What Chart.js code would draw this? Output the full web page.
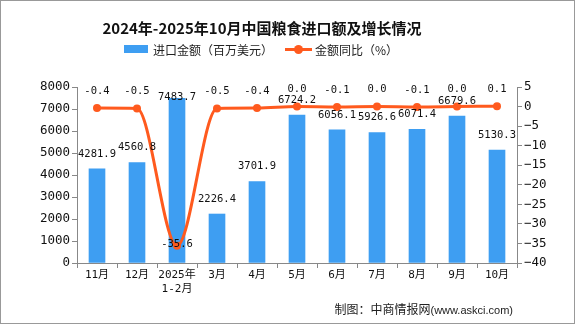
<!DOCTYPE html>
<html>
<head>
<meta charset="utf-8">
<script src="https://cdn.jsdelivr.net/npm/chart.js@4"></script>
<style>
  body { margin: 0; background: #fff; }
  #wrap { position: relative; width: 575px; height: 324px; box-sizing: border-box; border: 1px solid #999; background: #fff; overflow: hidden; }
  #chart { position: absolute; left: -1px; top: -1px; }
  #title { position: absolute; left: 0; top: 17px; width: 522px; text-align: center; font: bold 15px "Noto Sans CJK SC", sans-serif; color: #111; line-height: 20px; }
  .leg { position: absolute; top: 41px; font: 12px "Noto Sans CJK SC", sans-serif; color: #222; line-height: 16px; }
  .sw-bar { position: absolute; left: 123px; top: 44px; width: 24px; height: 8px; background: #3e9ef2; }
  .sw-line { position: absolute; left: 284px; top: 47px; width: 27px; height: 3px; background: #ff5a1e; }
  .sw-dot { position: absolute; left: 293px; top: 44px; width: 9px; height: 9px; border-radius: 50%; background: #ff5a1e; }
  #foot { position: absolute; right: 61px; top: 299px; font: 12px "Noto Sans CJK SC", sans-serif; color: #222; line-height: 18px; }
  #foot span { font: 11px "Liberation Sans", sans-serif; }
</style>
</head>
<body>
<div id="wrap">
  <canvas id="chart" width="575" height="324"></canvas>
  <div id="title">2024年-2025年10月中国粮食进口额及增长情况</div>
  <div class="sw-bar"></div>
  <div class="leg" style="left:152px">进口金额（百万美元）</div>
  <div class="sw-line"></div>
  <div class="sw-dot"></div>
  <div class="leg" style="left:314px">金额同比（%）</div>
  <div id="foot">制图：中商情报网<span>(www.askci.com)</span></div>
</div>
<script>
// ================= DATA =================
const labels = ["11月", "12月", ["2025年", "1-2月"], "3月", "4月", "5月", "6月", "7月", "8月", "9月", "10月"];
const importValues = [4281.9, 4560.8, 7483.7, 2226.4, 3701.9, 6724.2, 6056.1, 5926.6, 6071.4, 6679.6, 5130.3];
const yoyValues = [-0.4, -0.5, -35.6, -0.5, -0.4, 0.0, -0.1, 0.0, -0.1, 0.0, 0.1];

const BLUE = "#3e9ef2";
const ORANGE = "#ff5a1e";
const NUM_FONT = '"DejaVu Sans Mono", "Noto Sans CJK SC", monospace';

// ================= LABELS PLUGIN =================
const valueLabels = {
  id: "valueLabels",
  afterDatasetsDraw(chart) {
    const ctx = chart.ctx;
    const top = chart.chartArea.top;
    ctx.save();
    ctx.fillStyle = "#111";
    ctx.textAlign = "center";
    ctx.textBaseline = "middle";
    ctx.font = "10.5px " + NUM_FONT;

    chart.getDatasetMeta(1).data.forEach((bar, i) => {
      const y = Math.max(bar.y - 15, top + 10);
      ctx.fillText(importValues[i].toFixed(1), bar.x, y);
    });

    chart.getDatasetMeta(0).data.forEach((pt, i) => {
      const v = yoyValues[i];
      const y = v < -10 ? pt.y - 2 : pt.y - 17;
      ctx.fillText(v.toFixed(1), pt.x, y);
    });
    ctx.restore();
  }
};

// ================= CHART =================
new Chart(document.getElementById("chart"), {
  data: {
    labels: labels,
    datasets: [
      {
        type: "line",
        label: "金额同比（%）",
        data: yoyValues,
        yAxisID: "y1",
        borderColor: ORANGE,
        backgroundColor: ORANGE,
        borderWidth: 3,
        pointRadius: 4,
        pointBackgroundColor: ORANGE,
        pointBorderWidth: 0,
        cubicInterpolationMode: "monotone",
        order: 0
      },
      {
        type: "bar",
        label: "进口金额（百万美元）",
        data: importValues,
        yAxisID: "y",
        backgroundColor: BLUE,
        barThickness: 16,
        order: 1
      }
    ]
  },
  options: {
    responsive: false,
    animation: false,
    layout: { padding: { top: 87, left: 0, right: 0, bottom: 0 } },
    plugins: { legend: { display: false }, title: { display: false }, tooltip: { enabled: false } },
    scales: {
      x: {
        offset: true,
        grid: { offset: true, drawOnChartArea: false, tickLength: 5, color: "#888" },
        border: { color: "#888" },
        ticks: { color: "#111", font: { family: NUM_FONT, size: 11 }, padding: 1, maxRotation: 0, autoSkip: false },
        afterFit(s) { s.height = 61; }
      },
      y: {
        position: "left",
        min: 0,
        max: 8000,
        grid: { drawOnChartArea: false, tickLength: 5, color: "#888" },
        border: { color: "#888" },
        ticks: { stepSize: 1000, color: "#111", font: { family: NUM_FONT, size: 12.5 }, padding: 2, callback: v => String(v) },
        afterFit(s) { s.width = 77; }
      },
      y1: {
        position: "right",
        min: -40,
        max: 5,
        grid: { drawOnChartArea: false, tickLength: 5, color: "#888" },
        border: { color: "#888" },
        ticks: { stepSize: 5, color: "#111", font: { family: NUM_FONT, size: 12.5 }, padding: 2, callback: v => String(v).replace("-", "−") },
        afterFit(s) { s.width = 58; }
      }
    }
  },
  plugins: [valueLabels]
});
</script>
</body>
</html>
